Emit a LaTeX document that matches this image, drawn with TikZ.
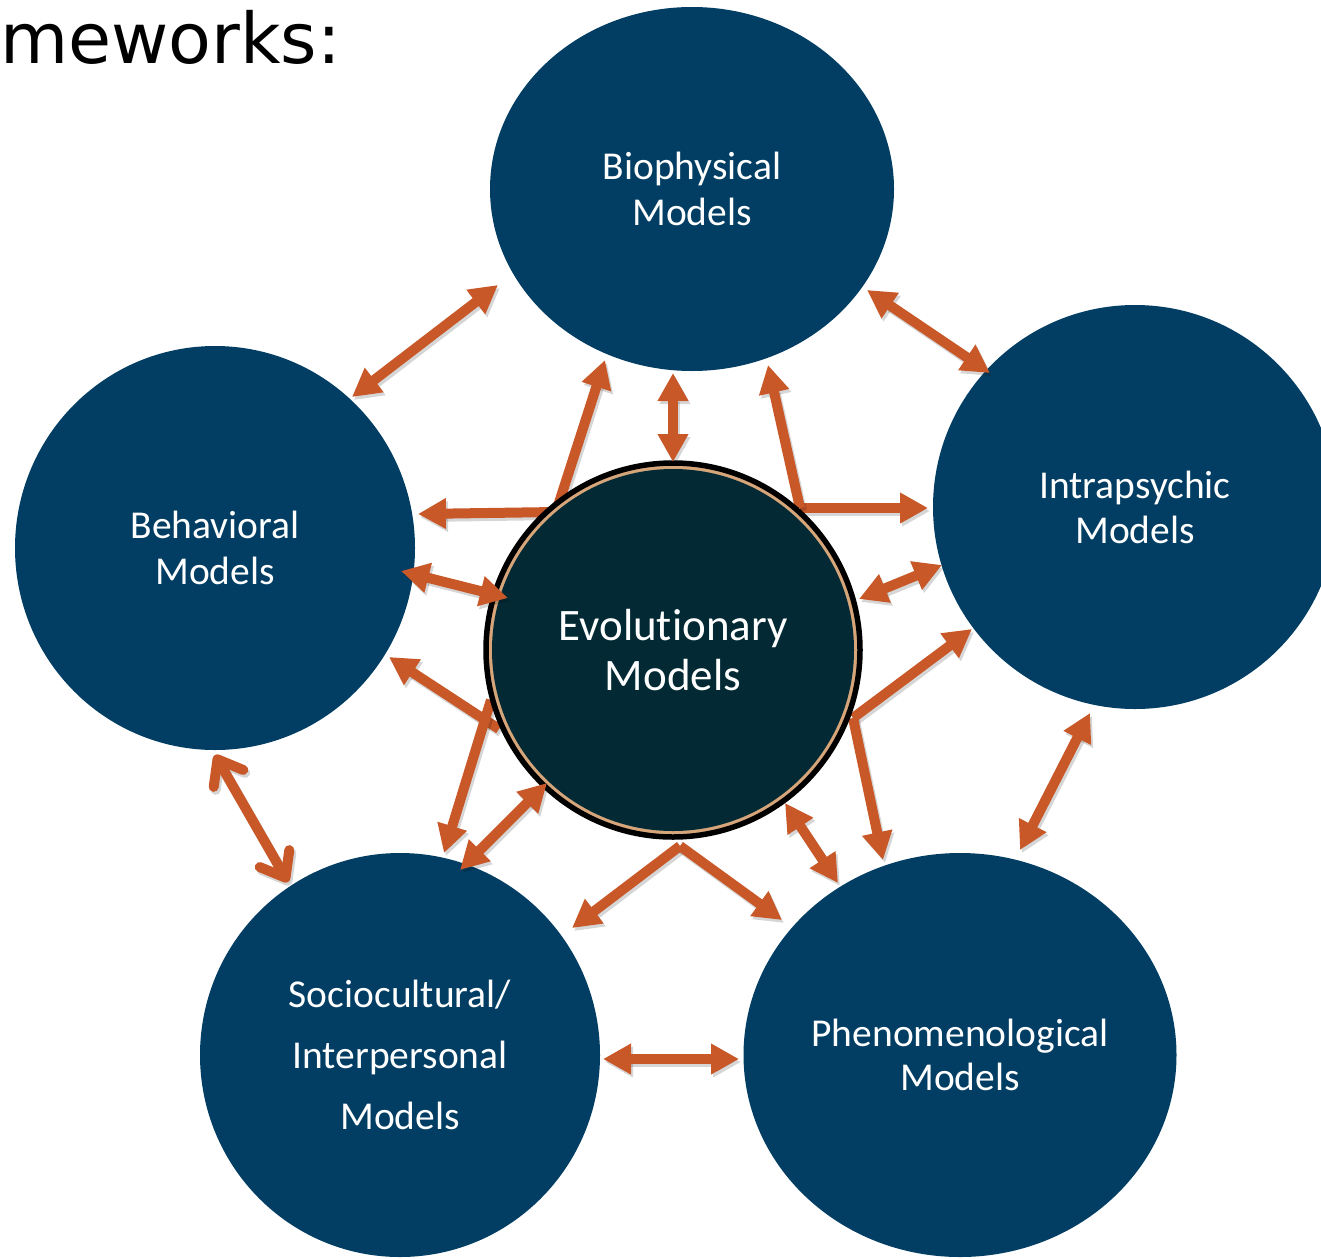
\documentclass[tikz,border=0pt]{standalone}
\usepackage{fontspec}
\setmainfont[Ligatures=NoCommon]{Carlito}
\newfontfamily\verdfont{DejaVu Sans}
\usetikzlibrary{arrows.meta,shapes.geometric}
\definecolor{outerblue}{RGB}{2,62,99}
\definecolor{innerdark}{RGB}{3,42,52}
\definecolor{arrowc}{RGB}{201,88,40}
\definecolor{tanring}{RGB}{214,166,122}
\newcommand\linkarrow[3]{%
  \draw[#1, shadowed] (#2) -- (#3);
  \draw[#1] (#2) -- (#3);}
\begin{document}
\begin{tikzpicture}[x=1pt,y=-1pt,
  outer/.style={ellipse, fill=outerblue, inner sep=0pt, text=white, align=center},
  lbl/.style={font=\fontsize{39.5}{#1}\selectfont},
  twoway/.style={draw=arrowc, line width=10pt, {Triangle[length=28pt,width=29pt]}-{Triangle[length=28pt,width=29pt]}},
  oneway/.style={draw=arrowc, line width=10pt, -{Triangle[length=28pt,width=29pt]}},
  barbway/.style={draw=arrowc, line width=10pt, line cap=round, {Straight Barb[length=22pt,width=34pt,round]}-{Straight Barb[length=22pt,width=34pt,round]}},
  shadowed/.style={draw=black, opacity=0.16, transform canvas={shift={(2pt,-3pt)}}}
]
\useasboundingbox (0,0) rectangle (1321,1258);
\clip (0,0) rectangle (1321,1258);
\fill[white] (0,0) rectangle (1321,1258);

% title fragment
\node[anchor=base west, inner sep=0pt, font=\verdfont\fontsize{70}{80}\selectfont] (title) at (0,63) {meworks:};

% outer circles
\node[outer, minimum width=404pt, minimum height=364pt, lbl=46] (bio) at (692,189) {Biophysical\\Models};
\node[outer, minimum width=404pt, minimum height=404pt, lbl=45] (intra) at (1135,507) {Intrapsychic\\Models};
\node[outer, minimum width=400pt, minimum height=404pt, lbl=46] (beh) at (215,548) {Behavioral\\Models};
\node[outer, minimum width=400pt, minimum height=404pt, lbl=61] (soc) at (400,1055) {Sociocultural/\\Interpersonal\\Models};
\node[outer, minimum width=433pt, minimum height=404pt, lbl=44] (phen) at (960,1055) {Phenomenological\\Models};

% arrow end points
\coordinate (jl) at (556,512);
\coordinate (jr) at (800,508);
\coordinate (jll) at (499,729);
\coordinate (jld) at (491,700);
\coordinate (jlr) at (853,718);
\coordinate (jb) at (680,846);
\coordinate (s1) at (418,514);
\coordinate (s2) at (605,360);
\coordinate (s3) at (928,508);
\coordinate (s4) at (768,365);
\coordinate (s5) at (389,657);
\coordinate (s6) at (444,853);
\coordinate (s7) at (972,629);
\coordinate (s8) at (883,860);
\coordinate (s9) at (572,928);
\coordinate (s10) at (782,920);

% branch arrows (behind the centre circle)
\linkarrow{oneway}{jl}{s1}
\linkarrow{oneway}{jl}{s2}
\linkarrow{oneway}{jr}{s3}
\linkarrow{oneway}{jr}{s4}
\linkarrow{oneway}{jll}{s5}
\linkarrow{oneway}{jld}{s6}
\linkarrow{oneway}{jlr}{s7}
\linkarrow{oneway}{jlr}{s8}
\linkarrow{oneway}{jb}{s9}
\linkarrow{oneway}{jb}{s10}

% centre circle
\node[circle, draw=black, line width=5.5pt, fill=tanring, minimum size=374pt, inner sep=0pt] (evoring) at (673,650) {};
\node[circle, fill=innerdark, minimum size=362pt, inner sep=0pt, text=white, align=center,
      font=\fontsize{45}{50}\selectfont] (evo) at (673,650) {Evolutionary\\Models};

% double arrows
\coordinate (d1a) at (498,285); \coordinate (d1b) at (352,397);
\coordinate (d2a) at (867,290); \coordinate (d2b) at (990,373);
\coordinate (d3a) at (215,755); \coordinate (d3b) at (288,882);
\coordinate (d4a) at (1090,713); \coordinate (d4b) at (1020,850);
\coordinate (d5a) at (603,1059); \coordinate (d5b) at (739,1059);
\coordinate (d6a) at (673,373); \coordinate (d6b) at (673,462);
\coordinate (d7a) at (401,571); \coordinate (d7b) at (508,598);
\coordinate (d8a) at (859,599); \coordinate (d8b) at (942,565);
\coordinate (d9a) at (547,783); \coordinate (d9b) at (460,870);
\coordinate (d10a) at (785,803); \coordinate (d10b) at (838,883);

\linkarrow{twoway}{d1a}{d1b}
\linkarrow{twoway}{d2a}{d2b}
\linkarrow{barbway}{d3a}{d3b}
\linkarrow{twoway}{d4a}{d4b}
\linkarrow{twoway}{d5a}{d5b}
\linkarrow{twoway}{d6a}{d6b}
\linkarrow{twoway}{d7a}{d7b}
\linkarrow{twoway}{d8a}{d8b}
\linkarrow{twoway}{d9a}{d9b}
\linkarrow{twoway}{d10a}{d10b}
\end{tikzpicture}
\end{document}
